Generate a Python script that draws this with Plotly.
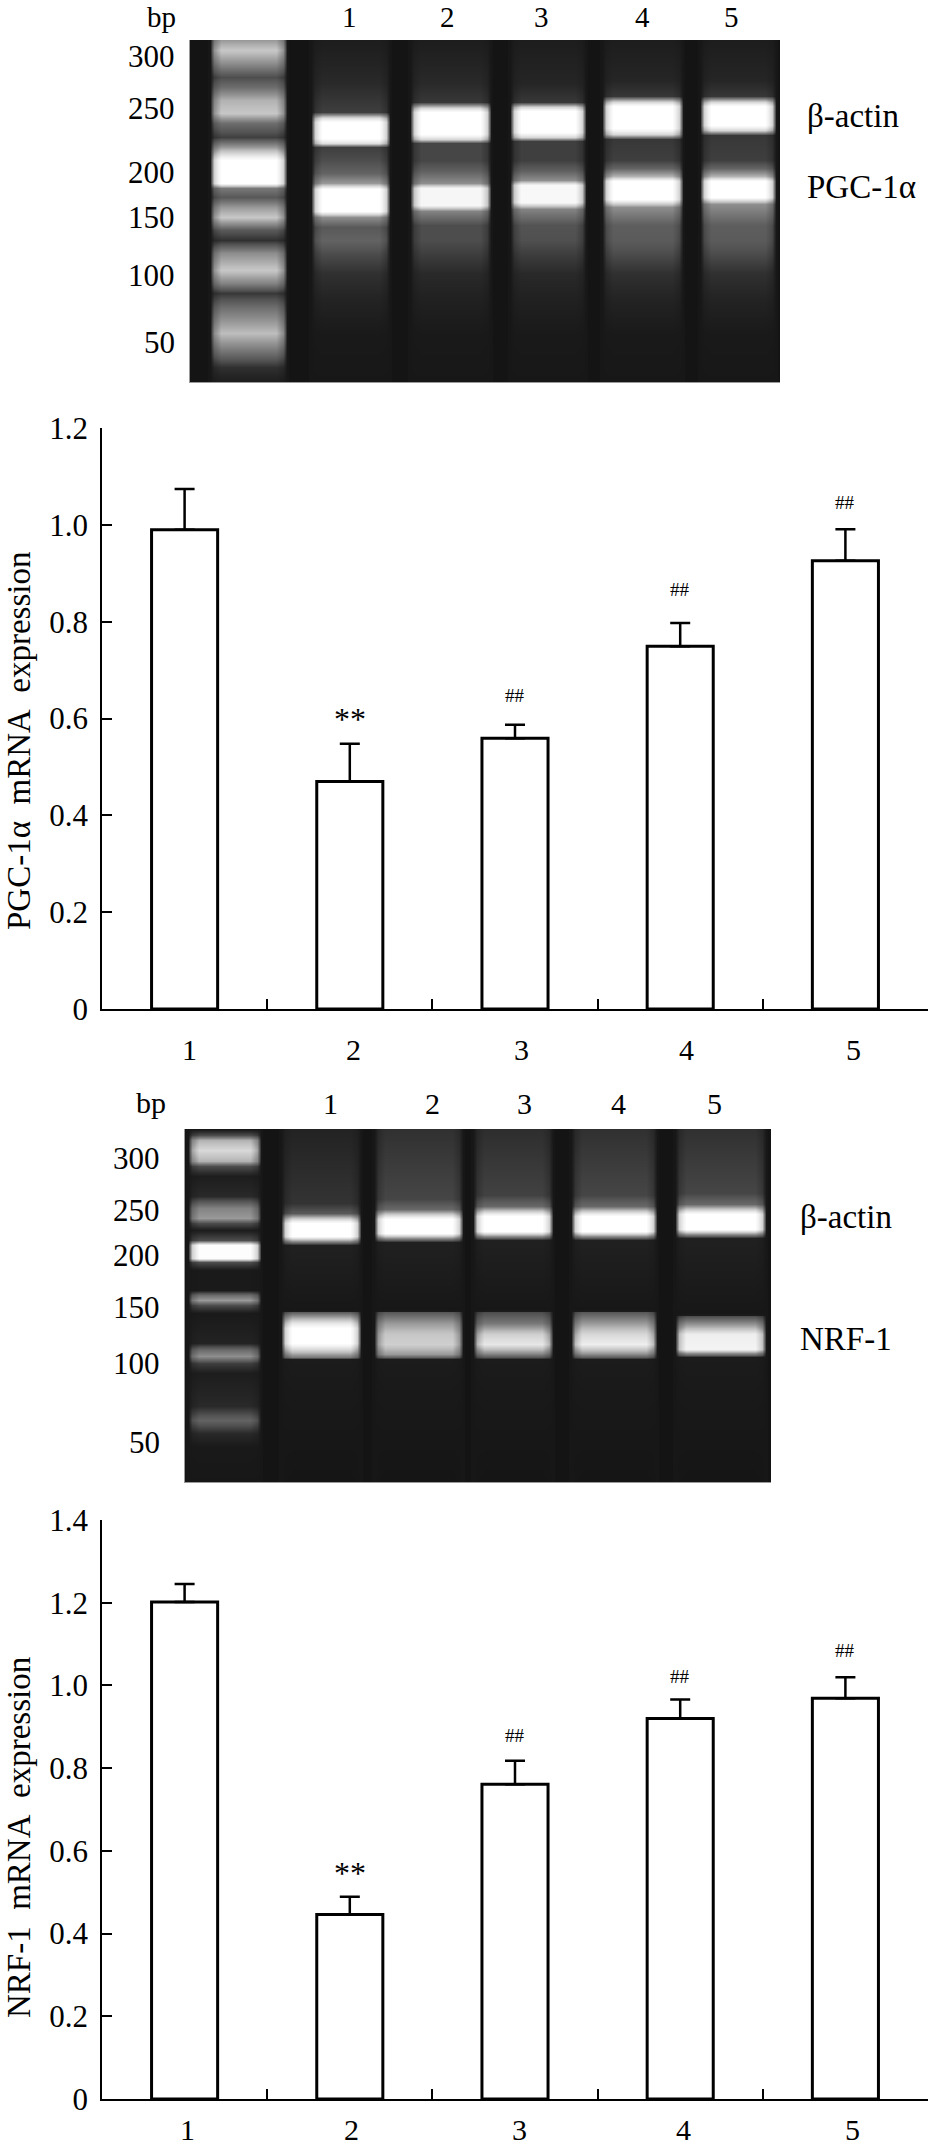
import numpy as np
import plotly.graph_objects as go

W, H = 928, 2146
SERIF = "Liberation Serif"

# ---------- bar data ----------
lanes = [1, 2, 3, 4, 5]
pgc_values = [0.99, 0.47, 0.559, 0.749, 0.926]
pgc_errors = [0.084, 0.078, 0.028, 0.048, 0.065]
nrf_values = [1.202, 0.446, 0.761, 0.92, 0.969]
nrf_errors = [0.043, 0.043, 0.057, 0.046, 0.051]
pgc_ticks = [0, 0.2, 0.4, 0.6, 0.8, 1.0, 1.2]
nrf_ticks = [0, 0.2, 0.4, 0.6, 0.8, 1.0, 1.2, 1.4]
pgc_marks = [("**", 2, 0.60), ("##", 3, 0.648), ("##", 4, 0.866), ("##", 5, 1.047)]
nrf_marks = [("**", 2, 0.547), ("##", 3, 0.88), ("##", 4, 1.021), ("##", 5, 1.084)]

# ---------- gel lanes: position along the gel and brightness ----------
gel1_ladder_rows = [0, 10, 23, 37, 47, 60, 73, 83, 97, 107, 120, 143, 148, 157, 167, 177, 190, 200, 213, 230, 243, 253, 267, 293, 313, 327, 342]
gel1_ladder_vals = [130, 170, 120, 60, 90, 150, 170, 90, 50, 130, 255, 255, 100, 70, 130, 170, 70, 40, 120, 170, 110, 45, 90, 160, 90, 40, 25]
gel1_rows = [
    [0, 43, 72, 78, 82, 98, 103, 107, 120, 133, 143, 149, 171, 177, 187, 200, 213, 233, 260, 293, 342],
    [0, 43, 62, 68, 72, 94, 99, 103, 120, 130, 143, 148, 165, 171, 185, 200, 213, 233, 260, 293, 342],
    [0, 43, 62, 67, 71, 92, 97, 101, 120, 130, 140, 145, 162, 169, 185, 200, 213, 233, 260, 293, 342],
    [0, 40, 56, 62, 66, 88, 94, 99, 120, 128, 136, 141, 159, 167, 185, 200, 213, 233, 260, 293, 342],
    [0, 40, 56, 62, 66, 85, 90, 95, 120, 128, 136, 141, 157, 164, 185, 200, 213, 233, 260, 293, 342],
]
gel1_vals = [
    [25, 35, 50, 200, 255, 255, 200, 50, 60, 80, 130, 255, 255, 120, 70, 80, 60, 40, 30, 22, 20],
    [25, 35, 45, 190, 255, 255, 190, 55, 55, 75, 120, 235, 235, 110, 60, 60, 50, 35, 28, 22, 20],
    [25, 32, 45, 190, 255, 255, 190, 50, 50, 75, 120, 240, 240, 110, 65, 62, 50, 35, 28, 22, 20],
    [25, 32, 45, 190, 255, 255, 190, 45, 50, 80, 150, 255, 255, 120, 75, 72, 60, 40, 30, 22, 20],
    [25, 32, 45, 190, 255, 255, 190, 45, 50, 80, 150, 255, 255, 120, 75, 72, 60, 40, 30, 22, 20],
]
gel1_edges = [(20, 97), (121, 200), (220, 301), (320, 396), (412, 493), (510, 586)]

gel2_ladder_rows = [0, 6, 11, 21, 32, 37, 47, 67, 79, 89, 94, 101, 111, 116, 129, 133, 141, 161, 166, 171, 176, 184, 214, 221, 227, 234, 244, 277, 291, 304, 317, 353]
gel2_ladder_vals = [20, 60, 150, 190, 150, 60, 25, 35, 110, 130, 60, 25, 60, 250, 250, 60, 22, 22, 90, 130, 60, 22, 30, 90, 120, 50, 25, 35, 80, 35, 22, 20]
gel2_rows = [
    [0, 74, 84, 90, 94, 107, 112, 116, 180, 182, 183, 194, 199, 214, 222, 228, 230, 260, 353],
    [0, 70, 80, 86, 90, 104, 109, 113, 180, 182, 183, 194, 205, 215, 225, 228, 230, 260, 353],
    [0, 66, 77, 83, 87, 102, 107, 111, 180, 182, 183, 194, 205, 215, 224, 228, 230, 260, 353],
    [0, 66, 77, 83, 87, 102, 107, 111, 180, 182, 183, 194, 205, 215, 224, 228, 230, 260, 353],
    [0, 64, 75, 81, 85, 100, 105, 109, 184, 186, 187, 198, 205, 220, 224, 226, 228, 260, 353],
]
gel2_vals = [
    [30, 42, 70, 190, 255, 255, 120, 28, 20, 24, 75, 210, 255, 255, 170, 100, 24, 22, 18],
    [40, 55, 85, 190, 255, 255, 120, 28, 20, 24, 70, 130, 170, 180, 130, 80, 24, 22, 18],
    [38, 52, 85, 190, 255, 255, 120, 28, 20, 24, 60, 100, 180, 210, 120, 70, 24, 22, 18],
    [40, 55, 85, 190, 255, 255, 120, 28, 20, 24, 70, 130, 190, 220, 130, 75, 24, 22, 18],
    [40, 55, 85, 190, 255, 255, 120, 28, 20, 24, 60, 150, 220, 230, 120, 80, 24, 22, 18],
]
gel2_edges = [(3, 76), (96, 176), (189, 278), (288, 368), (386, 472), (490, 581)]

gel_bg = 20
edge_steps = [0, 4, 11]
edge_weights = [0.0, 0.7, 1.0]

# ---------- text ----------
gel1_sizes = [("300", 57), ("250", 108), ("200", 173), ("150", 218), ("100", 275), ("50", 342)]
gel1_lane_x = [349, 447, 541, 642, 731]
gel2_sizes = [("300", 1158), ("250", 1210), ("200", 1255), ("150", 1307), ("100", 1363), ("50", 1442)]
gel2_lane_x = [330, 432, 524, 618, 714]
pgc_label_shift = [0.03, 0.02, 0.04, 0.04, 0.05]
nrf_label_shift = [0.02, 0.01, 0.03, 0.02, 0.04]


def xd(a, b):
    return [a / W, b / W]


def yd(top, bottom):
    return [1 - bottom / H, 1 - top / H]


fig = go.Figure()
annots = []
shapes = []


def text(t, x, y, size=31, xanchor="center", **kw):
    annots.append(dict(text=t, x=x / W, y=1 - y / H, xref="paper", yref="paper",
                       showarrow=False, xanchor=xanchor, yanchor="middle",
                       font=dict(family=SERIF, size=size, color="black"), **kw))


def add_gel(n, ladder_rows, ladder_vals, rows, vals, edges):
    all_rows = [ladder_rows] + rows
    all_vals = [ladder_vals] + vals
    suffix = "" if n == 1 else str(n)
    shapes.append(dict(type="rect", xref=f"x{suffix} domain", yref=f"y{suffix} domain",
                       x0=0, x1=1, y0=0, y1=1, layer="below", line=dict(width=0),
                       fillcolor=f"rgb({gel_bg},{gel_bg},{gel_bg})"))
    for (x0, x1), r, v in zip(edges, all_rows, all_vals):
        cols = [x0 + s for s in edge_steps] + [(x0 + x1) / 2] + [x1 - s for s in reversed(edge_steps)]
        w = np.array(edge_weights + [1.0] + edge_weights[::-1])
        z = gel_bg + np.outer(np.array(v, float) - gel_bg, w)
        fig.add_trace(go.Heatmap(x=cols, y=r, z=z.tolist(), zmin=0, zmax=255, zsmooth="best",
                                 colorscale="Greys_r", showscale=False, hoverinfo="skip",
                                 xaxis=f"x{suffix}", yaxis=f"y{suffix}"))


def add_bars(n, values, errors):
    fig.add_trace(go.Bar(x=lanes, y=values, width=0.4,
                         marker=dict(color="white", line=dict(color="black", width=3)),
                         error_y=dict(type="data", symmetric=False, array=errors,
                                      arrayminus=[0] * len(errors), color="black",
                                      thickness=2.5, width=10),
                         xaxis=f"x{n}", yaxis=f"y{n}", showlegend=False))


add_gel(1, gel1_ladder_rows, gel1_ladder_vals, gel1_rows, gel1_vals, gel1_edges)
add_bars(2, pgc_values, pgc_errors)
add_gel(3, gel2_ladder_rows, gel2_ladder_vals, gel2_rows, gel2_vals, gel2_edges)
add_bars(4, nrf_values, nrf_errors)

layout = dict(width=W, height=H, autosize=False,
              margin=dict(l=0, r=0, t=0, b=0, pad=0, autoexpand=False),
              paper_bgcolor="white", plot_bgcolor="white", showlegend=False)


def gel_axes(n, xpx, ypx, xmax, ymax):
    s = "" if n == 1 else str(n)
    layout[f"xaxis{s}"] = dict(domain=xd(*xpx), range=[0, xmax], anchor=f"y{s}", showgrid=False, zeroline=False,
                               showticklabels=False, ticks="", showline=True, linecolor="#9a9a9a", linewidth=1)
    layout[f"yaxis{s}"] = dict(domain=yd(*ypx), range=[ymax, 0], anchor=f"x{s}", showgrid=False, zeroline=False,
                               showticklabels=False, ticks="", showline=True, linecolor="#9a9a9a", linewidth=1)


def bar_axes(n, ypx, ymax, ticks):
    layout[f"xaxis{n}"] = dict(domain=xd(102, 928), range=[0.5, 5.5], anchor=f"y{n}", showgrid=False, zeroline=False,
                               tickmode="array", tickvals=[1.5, 2.5, 3.5, 4.5, 5.5], ticktext=[""] * 5,
                               ticks="inside", ticklen=10, tickwidth=1.5, tickcolor="black",
                               showline=True, linecolor="black", linewidth=1.5)
    layout[f"yaxis{n}"] = dict(domain=yd(*ypx), range=[0, ymax], anchor=f"x{n}", showgrid=False, zeroline=False,
                               tickmode="array", tickvals=ticks, ticktext=[str(t) for t in ticks],
                               ticks="inside", ticklen=10, tickwidth=1.5, tickcolor="black",
                               ticklabelstandoff=6,
                               tickfont=dict(family=SERIF, size=31, color="black"),
                               showline=True, linecolor="black", linewidth=1.5)


gel_axes(1, (190, 780), (40, 382), 590, 342)
bar_axes(2, (428, 1009), 1.2, pgc_ticks)
gel_axes(3, (185, 771), (1129, 1482), 586, 353)
bar_axes(4, (1520, 2099), 1.4, nrf_ticks)

# gel labels
text("bp", 161, 17, size=29)
for i, x in zip(lanes, gel1_lane_x):
    text(str(i), x, 17, size=29)
for t, y in gel1_sizes:
    text(t, 177, y, xanchor="right")
text("β-actin", 805, 116, xanchor="left", size=33)
text("PGC-1α", 805, 187, xanchor="left", size=33)

text("bp", 151, 1102, size=30)
for i, x in zip(lanes, gel2_lane_x):
    text(str(i), x, 1103, size=30)
for t, y in gel2_sizes:
    text(t, 162, y, xanchor="right")
text("β-actin", 798, 1217, xanchor="left", size=33)
text("NRF-1", 798, 1339, xanchor="left", size=33)

# y titles
text("PGC-1α\u00a0 mRNA\u00a0 expression", 19, 741, size=33, textangle=-90)
text("NRF-1\u00a0 mRNA\u00a0 expression", 19, 1838, size=33, textangle=-90)


def chart_labels(n, marks, shifts, yshift):
    for t, i, y in marks:
        annots.append(dict(text=t, x=i, y=y, xref=f"x{n}", yref=f"y{n}", showarrow=False,
                           font=dict(family=SERIF, size=32 if t == "**" else 19, color="black")))
    for i, s in zip(lanes, shifts):
        annots.append(dict(text=str(i), x=i + s, y=0, xref=f"x{n}", yref=f"y{n}", showarrow=False,
                           yanchor="middle", yshift=yshift,
                           font=dict(family=SERIF, size=30, color="black")))


chart_labels(2, pgc_marks, pgc_label_shift, -40)
chart_labels(4, nrf_marks, nrf_label_shift, -30)

layout["annotations"] = annots
layout["shapes"] = shapes
fig.update_layout(**layout)
fig.write_html("out.html", post_script="document.body.style.margin='0';",
               config={"displayModeBar": False})
